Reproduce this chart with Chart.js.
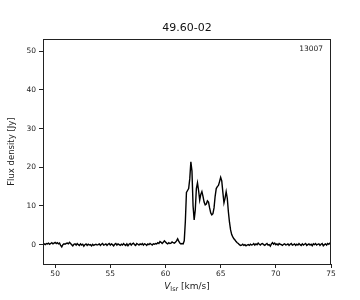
<!DOCTYPE html>
<html>
<head>
<meta charset="utf-8">
<script src="https://cdn.jsdelivr.net/npm/chart.js@4.4.0/dist/chart.umd.min.js"></script>
<style>
html,body{margin:0;padding:0;background:#fff;}
#wrap{width:360px;height:300px;}
</style>
</head>
<body>
<div id="wrap"><canvas id="c" width="360" height="300"></canvas></div>
<script>
// ---- data ----
const TITLE = '49.60-02';
const LABEL = '13007';
const V_START = 48.9;   // km/s, first channel
const V_STEP = 0.1;     // km/s, channel width
const flux = [
  0.1,0.2,0.0,0.3,0.2,0.4,0.1,0.3,0.5,0.2,
  0.4,0.6,0.3,0.5,0.2,0.4,-0.2,-0.6,0.0,0.2,
  0.1,0.3,0.4,0.2,0.6,0.3,0.0,-0.3,0.1,0.2,
  -0.1,0.3,0.0,-0.2,0.2,-0.1,0.1,-0.4,0.0,0.2,
  -0.2,0.1,-0.1,0.0,-0.3,0.1,-0.2,0.0,0.1,-0.1,
  0.0,0.2,-0.2,0.1,0.3,-0.1,0.0,0.2,-0.2,0.1,
  0.3,-0.1,0.2,0.0,-0.3,0.1,0.3,-0.1,0.2,0.0,
  -0.2,0.1,-0.1,0.3,0.0,-0.2,0.2,-0.3,0.1,0.3,
  -0.1,0.2,0.4,0.0,-0.2,0.3,0.1,-0.1,0.2,0.0,
  0.3,-0.1,0.2,0.1,-0.2,0.2,0.0,0.3,0.1,-0.1,
  0.2,0.1,0.3,0.2,0.5,0.3,0.8,0.6,0.3,0.6,
  1.0,0.7,0.4,0.2,0.5,0.3,0.4,0.7,0.5,0.4,
  0.6,1.0,1.5,0.9,0.4,0.2,0.3,0.2,1.0,6.0,
  13.5,14.0,14.5,17.0,21.4,19.0,10.0,6.4,9.0,14.5,
  16.0,14.0,11.5,13.0,13.7,12.5,11.0,10.3,10.5,11.3,
  11.0,9.5,8.2,7.7,8.0,9.5,12.5,14.5,15.0,15.3,
  16.3,17.4,16.5,13.5,10.8,12.0,13.7,12.0,8.5,5.8,
  3.8,2.6,2.0,1.5,1.2,0.8,0.5,0.3,0.0,-0.2,
  -0.1,0.1,-0.2,0.0,-0.3,-0.1,0.0,-0.2,0.1,-0.1,
  0.0,0.3,-0.1,0.2,0.0,0.4,0.1,-0.1,0.2,0.3,
  0.0,-0.2,0.1,0.3,-0.1,0.0,-0.4,0.2,0.5,0.1,
  0.4,0.0,0.2,-0.1,0.3,0.1,0.0,-0.2,0.1,0.2,
  -0.1,0.0,0.2,-0.2,0.1,0.3,-0.1,0.0,0.2,-0.2,
  0.1,-0.1,0.3,0.0,-0.2,0.2,-0.1,0.1,0.3,-0.2,
  0.0,0.2,-0.1,0.1,-0.3,0.2,0.0,0.3,-0.1,0.1,
  0.2,-0.2,0.1,0.3,-0.3,0.0,0.2,-0.1,0.3,0.1,
  0.4,0.2
];
const velocity = flux.map((_, i) => +(V_START + i * V_STEP).toFixed(2));
const xTicks = [50, 55, 60, 65, 70, 75];
const yTicks = [0, 10, 20, 30, 40, 50];
const X_TITLE = 'Vlsr [km/s]';
const Y_TITLE = 'Flux density [Jy]';

const FONT = 'DejaVu Sans';
const points = velocity.map((v, i) => ({x: v, y: flux[i]}));

const framePlugin = {
  id: 'frame',
  afterDraw(chart) {
    const {ctx, chartArea: a} = chart;
    ctx.save();
    ctx.strokeStyle = '#222';
    ctx.lineWidth = 1;
    ctx.strokeRect(Math.round(a.left) + 0.5, Math.round(a.top) + 0.5,
                   Math.round(a.right - a.left) - 1, Math.round(a.bottom - a.top));
    // label in top-right
    ctx.fillStyle = '#222';
    ctx.font = '7.5px "' + FONT + '"';
    ctx.textAlign = 'right';
    ctx.textBaseline = 'middle';
    ctx.fillText(LABEL, a.right - 8, a.top + 10);
    // x-axis title with subscript
    const cx = (a.left + a.right) / 2;
    const y = 286;
    const f1 = 'italic 9px "' + FONT + '"';
    const f2 = '6.5px "' + FONT + '"';
    const f3 = '9px "' + FONT + '"';
    ctx.font = f1; const w1 = ctx.measureText('V').width;
    ctx.font = f2; const w2 = ctx.measureText('lsr').width;
    ctx.font = f3; const w3 = ctx.measureText(' [km/s]').width;
    let x = cx - (w1 + w2 + w3) / 2;
    ctx.textAlign = 'left';
    ctx.textBaseline = 'alphabetic';
    ctx.font = f1; ctx.fillText('V', x, y + 3); x += w1;
    ctx.font = f2; ctx.fillText('lsr', x, y + 5); x += w2;
    ctx.font = f3; ctx.fillText(' [km/s]', x, y + 3);
    ctx.restore();
  }
};

new Chart(document.getElementById('c'), {
  type: 'line',
  data: {
    datasets: [{
      data: points,
      borderColor: '#000',
      borderWidth: 1.4,
      pointRadius: 0,
      tension: 0,
      fill: false
    }]
  },
  options: {
    responsive: false,
    animation: false,
    layout: {padding: {top: 22, right: 29, left: 0, bottom: 0}},
    plugins: {
      legend: {display: false},
      tooltip: {enabled: false},
      title: {
        display: true,
        text: TITLE,
        fullSize: false,
        color: '#111',
        font: {family: FONT, size: 11, weight: 'normal'},
        padding: {top: 0, bottom: 4}
      }
    },
    scales: {
      x: {
        type: 'linear',
        min: 48.9,
        max: 75,
        afterBuildTicks(s) { s.ticks = xTicks.map(v => ({value: v})); },
        afterFit(s) { s.height = 36; },
        grid: {display: true, drawOnChartArea: false, drawTicks: true, tickLength: 4, color: '#222'},
        border: {display: true, color: '#222', width: 1},
        ticks: {color: '#222', font: {family: FONT, size: 7.5}, padding: 2, maxRotation: 0},
        title: {display: false, text: X_TITLE}
      },
      y: {
        type: 'linear',
        min: -5,
        max: 53.1,
        afterBuildTicks(s) { s.ticks = yTicks.map(v => ({value: v})); },
        afterFit(s) { s.width = 43; },
        grid: {display: true, drawOnChartArea: false, drawTicks: true, tickLength: 4, color: '#222'},
        border: {display: true, color: '#222', width: 1},
        ticks: {color: '#222', font: {family: FONT, size: 7.5}, padding: 3},
        title: {display: true, text: Y_TITLE, color: '#222', font: {family: FONT, size: 8.5}, padding: {top: 7, bottom: 0}}
      }
    }
  },
  plugins: [framePlugin]
});
</script>
</body>
</html>
